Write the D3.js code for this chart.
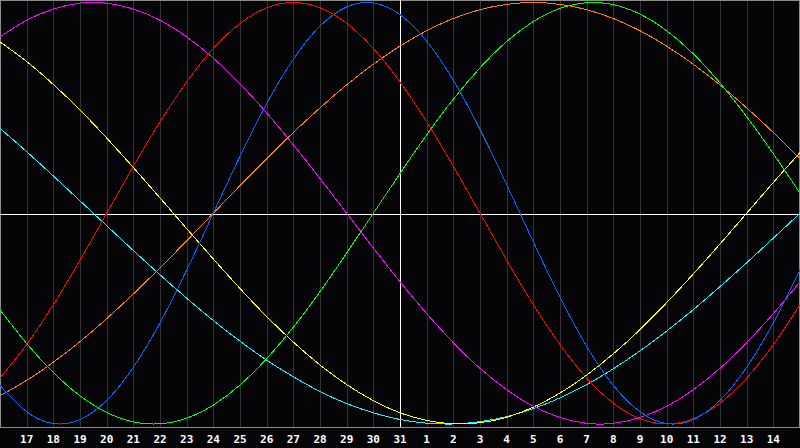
<!DOCTYPE html>
<html>
<head>
<meta charset="utf-8">
<script src="https://cdn.jsdelivr.net/npm/d3@7"></script>
<style>
html, body { margin: 0; padding: 0; background: #050508; }
svg { display: block; }
</style>
</head>
<body>
<script>
// day labels, one per day column (index 0 = left edge, 30 = right edge)
const days = ["16","17","18","19","20","21","22","23","24","25","26","27","28","29","30","31",
              "1","2","3","4","5","6","7","8","9","10","11","12","13","14","15"];

// biorhythm values in percent, read per day
const physical     = [-81.7,-94.2,-99.8,-97.9,-88.8,-73.1,-52.0,-27.0,0,27.0,52.0,73.1,88.8,97.9,99.8,94.2,81.7,63.1,39.8,13.6,-13.6,-39.8,-63.1,-81.7,-94.2,-99.8,-97.9,-88.8,-73.1,-52.0,-27.0];
const emotional    = [-78.2,-62.3,-43.4,-22.3,0,22.3,43.4,62.3,78.2,90.1,97.5,100,97.5,90.1,78.2,62.3,43.4,22.3,0,-22.3,-43.4,-62.3,-78.2,-90.1,-97.5,-100,-97.5,-90.1,-78.2,-62.3,-43.4];
const intellectual = [-45.8,-61.8,-75.6,-86.6,-94.5,-99.0,-99.9,-97.2,-91.0,-81.5,-69.0,-54.1,-37.2,-18.9,0,18.9,37.2,54.1,69.0,81.5,91.0,97.2,99.9,99.0,94.5,86.6,75.6,61.8,45.8,28.2,9.5];
const intuitive    = [83.7,91.6,96.9,99.7,99.7,96.9,91.6,83.7,73.6,61.4,47.6,32.5,16.5,0,-16.5,-32.5,-47.6,-61.4,-73.6,-83.7,-91.6,-96.9,-99.7,-99.7,-96.9,-91.6,-83.7,-73.6,-61.4,-47.6,-32.5];
const aesthetic    = [81.3,72.0,61.1,49.0,35.7,21.7,7.3,-7.3,-21.7,-35.7,-49.0,-61.1,-72.0,-81.3,-88.9,-94.7,-98.3,-99.9,-99.4,-96.8,-92.0,-85.3,-76.8,-66.7,-55.2,-42.4,-28.8,-14.6,0,14.6,28.8];
const awareness    = [-86.6,-79.3,-70.7,-60.9,-50,-38.3,-25.9,-13.1,0,13.1,25.9,38.3,50,60.9,70.7,79.3,86.6,92.4,96.6,99.1,100,99.1,96.6,92.4,86.6,79.3,70.7,60.9,50,38.3,25.9];
const spiritual    = [40.3,29.2,17.7,5.9,-5.9,-17.7,-29.2,-40.3,-50.9,-60.7,-69.7,-77.6,-84.6,-90.3,-94.7,-97.9,-99.6,-100,-98.9,-96.5,-92.7,-87.6,-81.3,-73.8,-65.3,-55.9,-45.7,-34.8,-23.5,-11.8,0];

const series = [
  {name: "awareness",    values: awareness,    color: "#ff8000"},
  {name: "spiritual",    values: spiritual,    color: "#00ffff"},
  {name: "aesthetic",    values: aesthetic,    color: "#ffff00"},
  {name: "intuitive",    values: intuitive,    color: "#ff00ff"},
  {name: "intellectual", values: intellectual, color: "#00ff00"},
  {name: "emotional",    values: emotional,    color: "#ff0000"},
  {name: "physical",     values: physical,     color: "#0066ff"}
];

const w = 800;
const h = 448;
const plotBottom = 427;
const today = 15;

const x = d3.scaleLinear()
            .domain([0, days.length - 1])
            .range([0, w]);

const y = d3.scaleLinear()
            .domain([-100, 100])
            .range([424, 2.5]);

const svg = d3.select("body")
              .append("svg")
              .attr("width", w)
              .attr("height", h);

svg.append("rect")
   .attr("width", w)
   .attr("height", h)
   .attr("fill", "#050508");

const ticks = d3.range(1, days.length - 1);

// day grid
svg.append("g")
   .selectAll("line")
   .data(ticks.filter((d) => d != today))
   .enter()
   .append("line")
   .attr("x1", (d) => Math.round(x(d)) + 0.5)
   .attr("x2", (d) => Math.round(x(d)) + 0.5)
   .attr("y1", 0)
   .attr("y2", plotBottom)
   .attr("stroke", "#333336")
   .attr("stroke-width", 1);

// frame
svg.append("rect")
   .attr("x", 0.5)
   .attr("y", 0.5)
   .attr("width", w - 1)
   .attr("height", plotBottom)
   .attr("fill", "none")
   .attr("stroke", "#8c8c8c")
   .attr("stroke-width", 1);

// zero line and today line
svg.append("line")
   .attr("x1", 0)
   .attr("x2", w)
   .attr("y1", Math.ceil(y(0)) + 0.5)
   .attr("y2", Math.ceil(y(0)) + 0.5)
   .attr("stroke", "#ffffff");

svg.append("line")
   .attr("x1", Math.round(x(today)) + 0.5)
   .attr("x2", Math.round(x(today)) + 0.5)
   .attr("y1", 0)
   .attr("y2", plotBottom)
   .attr("stroke", "#ffffff");

const line = d3.line()
               .x((d, i) => x(i))
               .y((d) => y(d))
               .curve(d3.curveNatural);

svg.append("g")
   .selectAll("path")
   .data(series)
   .enter()
   .append("path")
   .attr("d", (d) => line(d.values))
   .attr("fill", "none")
   .attr("stroke", (d) => d.color)
   .attr("stroke-width", 1)
   .attr("shape-rendering", "crispEdges");

// day labels
svg.append("g")
   .selectAll("text")
   .data(ticks)
   .enter()
   .append("text")
   .attr("x", (d) => x(d))
   .attr("y", 443)
   .attr("text-anchor", "middle")
   .attr("fill", "#ffffff")
   .style("font-family", "'DejaVu Sans Mono', monospace")
   .style("font-weight", "bold")
   .style("font-size", "11px")
   .text((d) => days[d]);

</script>
</body>
</html>
